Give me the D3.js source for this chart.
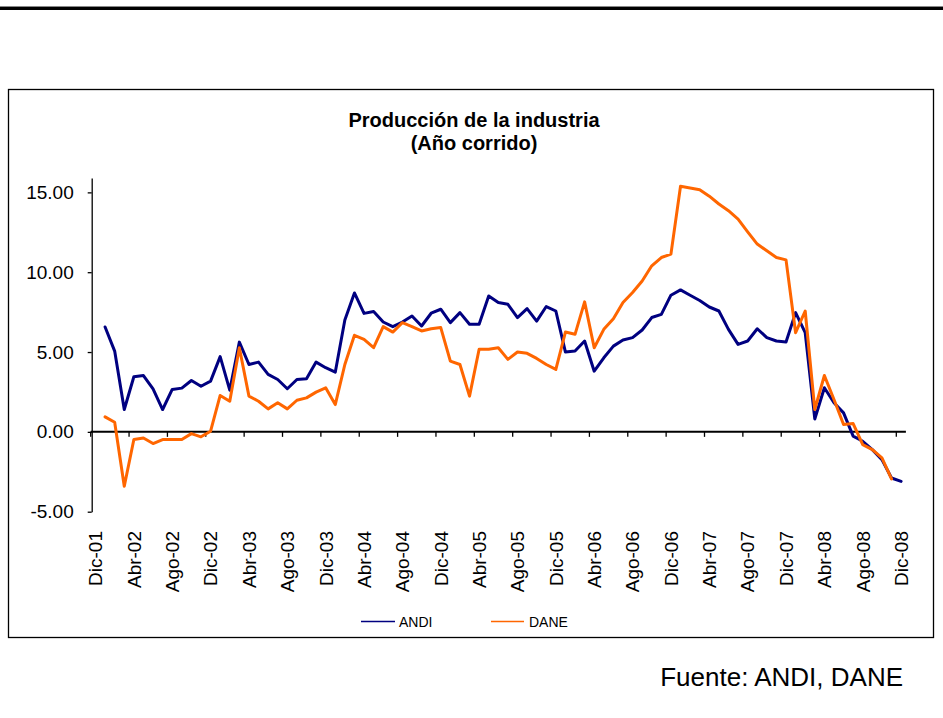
<!DOCTYPE html>
<html>
<head>
<meta charset="utf-8">
<script src="https://cdn.jsdelivr.net/npm/d3@7"></script>
<style>
  html, body { margin: 0; padding: 0; background: #fff; }
  svg { display: block; font-family: "Liberation Sans", Arial, sans-serif; }
</style>
</head>
<body>
<svg id="chart" width="943" height="718"></svg>
<script>
// Monthly category labels, Dic-01 .. Dic-08
const monthNames = ["Ene", "Feb", "Mar", "Abr", "May", "Jun", "Jul", "Ago", "Sep", "Oct", "Nov", "Dic"];
const categories = ["Dic-01"];
for (let y = 2; y <= 8; y++) {
  monthNames.forEach(m => categories.push(m + "-0" + y));
}

// Year-to-date industrial production growth (%)
const andi = [null,
  6.57, 5.06, 1.40, 3.45, 3.53, 2.70, 1.40, 2.66, 2.74, 3.22, 2.86, 3.18,
  4.71, 2.61, 5.62, 4.22, 4.37, 3.60, 3.28, 2.70, 3.28, 3.33, 4.37, 4.02,
  3.74, 7.01, 8.70, 7.42, 7.54, 6.88, 6.59, 6.88, 7.26, 6.63, 7.43, 7.68,
  6.84, 7.47, 6.74, 6.74, 8.51, 8.10, 7.99, 7.16, 7.72, 6.94, 7.85, 7.57,
  5.00, 5.06, 5.69, 3.80, 4.64, 5.37, 5.75, 5.90, 6.38, 7.16, 7.36, 8.56,
  8.89, 8.56, 8.23, 7.82, 7.57, 6.42, 5.48, 5.69, 6.46, 5.90, 5.69, 5.63,
  7.47, 6.21, 0.81, 2.76, 1.82, 1.19, -0.27, -0.59, -1.11, -1.74, -2.89, -3.10];

const dane = [null,
  0.94, 0.60, -3.41, -0.48, -0.38, -0.73, -0.48, -0.48, -0.48, -0.11, -0.31, 0.04,
  2.28, 1.92, 5.27, 2.24, 1.92, 1.44, 1.82, 1.44, 1.98, 2.13, 2.49, 2.76,
  1.71, 4.22, 6.05, 5.79, 5.27, 6.59, 6.25, 6.84, 6.59, 6.32, 6.46, 6.53,
  4.43, 4.22, 2.24, 5.17, 5.17, 5.27, 4.54, 5.00, 4.92, 4.60, 4.22, 3.91,
  6.25, 6.11, 8.14, 5.27, 6.42, 7.09, 8.10, 8.73, 9.45, 10.40, 10.92, 11.13,
  15.38, 15.28, 15.17, 14.76, 14.27, 13.85, 13.33, 12.53, 11.76, 11.34, 10.92, 10.77,
  6.21, 7.57, 1.40, 3.53, 2.03, 0.46, 0.52, -0.80, -1.11, -1.63, -2.95, null];

const yTicks = [-5, 0, 5, 10, 15];
const seriesNames = ["ANDI", "DANE"];
const seriesColors = ["#000080", "#FF6600"];

const svg = d3.select("#chart");

// page rule at the top and chart frame
svg.append("rect").attr("x", 0).attr("y", 6).attr("width", 943).attr("height", 1).attr("fill", "#888");
svg.append("rect").attr("x", 0).attr("y", 7).attr("width", 943).attr("height", 3).attr("fill", "#000");
svg.append("rect")
  .attr("x", 8.5).attr("y", 89.5).attr("width", 925).attr("height", 548)
  .attr("fill", "#fff").attr("stroke", "#000").attr("stroke-width", 1.3);

// title
const title = svg.append("text")
  .attr("text-anchor", "middle")
  .attr("font-weight", "bold")
  .attr("font-size", 20)
  .attr("fill", "#000");
title.append("tspan").attr("x", 474).attr("y", 127).text("Producción de la industria");
title.append("tspan").attr("x", 474).attr("y", 150).text("(Año corrido)");

// scales
const x = d3.scaleBand().domain(categories).range([90.7, 905.9]).paddingInner(0).paddingOuter(0);
const y = d3.scaleLinear().domain([-5, 15.9]).range([511.7, 178]);
const cx = d => x(d) + x.bandwidth() / 2;

// y axis
const yAxis = svg.append("g")
  .attr("transform", "translate(91.7,0)")
  .call(d3.axisLeft(y).tickValues(yTicks).tickFormat(d => d.toFixed(2)).tickSize(4).tickSizeOuter(0).tickPadding(14));
yAxis.selectAll("path, line").attr("stroke", "#000").attr("stroke-width", 1.3);
yAxis.selectAll("text").attr("font-size", 19).attr("fill", "#000").attr("font-family", "Liberation Sans, Arial, sans-serif");

// x axis on the zero line: tick marks at category boundaries every 4 months
const tickCats = categories.filter((d, i) => i % 4 === 0);
const xAxisG = svg.append("g").attr("transform", `translate(0,${y(0)})`);
xAxisG.append("line")
  .attr("x1", x.range()[0]).attr("x2", x.range()[1])
  .attr("stroke", "#000").attr("stroke-width", 2);
xAxisG.selectAll("line.tick")
  .data(tickCats)
  .join("line")
  .attr("class", "tick")
  .attr("x1", d => x(d)).attr("x2", d => x(d))
  .attr("y1", 0).attr("y2", 5)
  .attr("stroke", "#000").attr("stroke-width", 1.3);

// category labels below the plot
svg.append("g").selectAll("text")
  .data(tickCats)
  .join("text")
  .attr("transform", d => `translate(${cx(d)},531) rotate(-90)`)
  .attr("text-anchor", "end")
  .attr("dy", "0.36em")
  .attr("font-size", 19)
  .attr("fill", "#000")
  .text(d => d);

// series lines
const line = d3.line()
  .defined(d => d.v != null)
  .x(d => cx(d.c))
  .y(d => y(d.v));

[andi, dane].forEach((vals, k) => {
  const pts = categories.map((c, i) => ({ c, v: vals[i] }));
  svg.append("path")
    .datum(pts)
    .attr("fill", "none")
    .attr("stroke", seriesColors[k])
    .attr("stroke-width", 3)
    .attr("stroke-linejoin", "round")
    .attr("stroke-linecap", "round")
    .attr("d", line);
});

// legend
const legendItems = [
  { x1: 361, x2: 395, tx: 399 },
  { x1: 491, x2: 524, tx: 529 }
];
legendItems.forEach((it, k) => {
  svg.append("line")
    .attr("x1", it.x1).attr("x2", it.x2)
    .attr("y1", 621.5).attr("y2", 621.5)
    .attr("stroke", seriesColors[k]).attr("stroke-width", 1.5);
  svg.append("text")
    .attr("x", it.tx).attr("y", 627)
    .attr("font-size", 14).attr("fill", "#000")
    .text(seriesNames[k]);
});

// source note
svg.append("text")
  .attr("x", 903).attr("y", 686)
  .attr("text-anchor", "end")
  .attr("font-size", 26)
  .attr("fill", "#000")
  .text("Fuente: ANDI, DANE");
</script>
</body>
</html>
